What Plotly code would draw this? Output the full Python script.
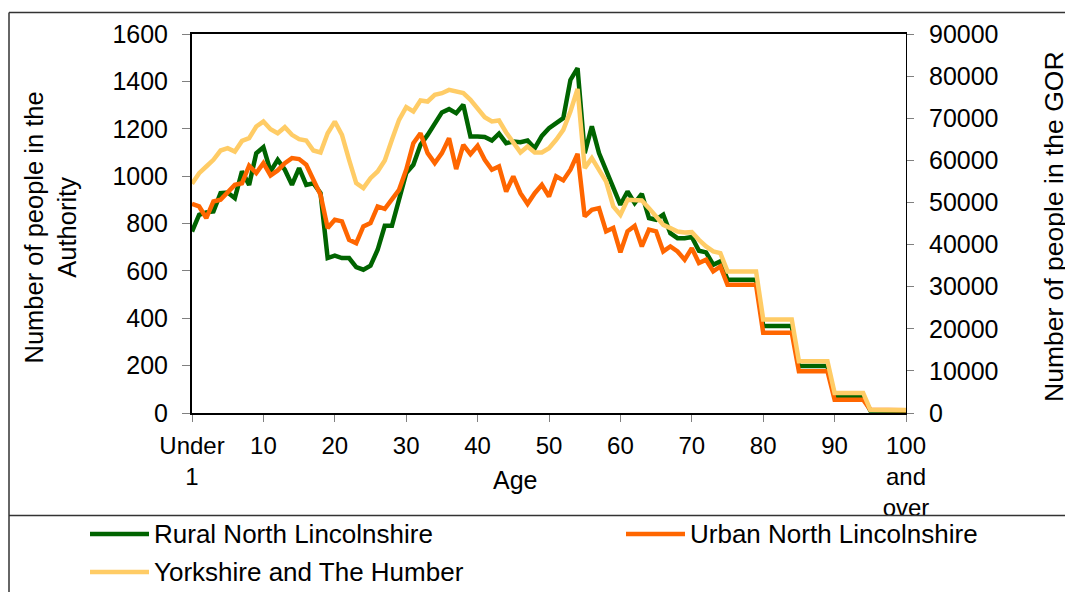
import plotly.graph_objects as go

# ---------------- data ----------------
ages = list(range(0, 101))
tick_vals = [0, 10, 20, 30, 40, 50, 60, 70, 80, 90, 100]
tick_text = ["Under<br>1", "10", "20", "30", "40", "50", "60", "70", "80", "90", "100<br>and<br>over"]

name_rural = "Rural North Lincolnshire"
name_urban = "Urban North Lincolnshire"
name_yorks = "Yorkshire and The Humber"

rural = [766, 837, 847, 851, 928, 931, 907, 1020, 963, 1097,
         1122, 1020, 1069, 1027, 963, 1034, 963, 970, 928, 654,
         664, 654, 654, 616, 605, 622, 689, 790, 790, 900,
         1013, 1048, 1132, 1174, 1224, 1269, 1283, 1266, 1301, 1167,
         1167, 1165, 1150, 1179, 1139, 1146, 1143, 1150, 1118, 1170,
         1202, 1224, 1245, 1406, 1456, 1097, 1210, 1097, 1027, 956,
         879, 935, 886, 925, 823, 816, 837, 759, 738, 738,
         743, 685, 678, 626, 640, 563, 563, 563, 563, 563,
         367, 367, 367, 367, 367, 198, 198, 198, 198, 198,
         71, 71, 71, 71, 71, 11, 11, 11, 11, 11,
         10]

urban = [883, 872, 823, 893, 900, 935, 963, 970, 1044, 1013,
         1055, 1003, 1024, 1055, 1076, 1072, 1048, 985, 921, 781,
         816, 809, 731, 717, 788, 802, 872, 862, 900, 942,
         1027, 1139, 1181, 1097, 1055, 1097, 1160, 1030, 1132, 1093,
         1128, 1069, 1027, 1041, 935, 999, 928, 883, 928, 963,
         914, 999, 982, 1027, 1094, 830, 858, 865, 767, 781,
         678, 767, 790, 703, 774, 767, 682, 703, 682, 647,
         696, 633, 647, 598, 619, 541, 541, 541, 541, 541,
         339, 339, 339, 339, 339, 176, 176, 176, 176, 176,
         56, 56, 56, 56, 56, 14, 14, 14, 14, 14,
         12]

yorkshire = [54420, 56950, 58530, 60120, 62330, 62880, 62090, 64620, 65260, 68030,
             69210, 67390, 66440, 67870, 66050, 65020, 64700, 62330, 61860, 66440,
             69210, 66050, 60120, 54580, 53390, 55770, 57350, 59960, 64880, 69610,
             72630, 71600, 74210, 73970, 75560, 75950, 76740, 76350, 75950, 74370,
             72390, 70250, 69230, 69460, 66620, 64080, 61880, 63290, 61880, 61880,
             62890, 64880, 67240, 71600, 76940, 58140, 60510, 57740, 54970, 49040,
             47060, 50620, 50470, 50470, 48650, 46670, 44690, 43900, 43110, 42870,
             42950, 41130, 39550, 38360, 37970, 33620, 33620, 33620, 33620, 33620,
             22230, 22230, 22230, 22230, 22230, 12300, 12300, 12300, 12300, 12300,
             4760, 4760, 4760, 4760, 4760, 790, 790, 790, 790, 790,
             700]

# ---------------- styling ----------------
C_RURAL = "#006400"
C_URBAN = "#FF6600"
C_YORKS = "#FFCC66"
FONT = "Liberation Sans, Arial, sans-serif"
FS = 25

# page has an 8px body margin, so the figure is 8px smaller than the window
OFF = 8
W, H = 1073 - OFF, 592 - OFF
PLOT_L, PLOT_R, PLOT_T, PLOT_B = 192, 906, 34, 413   # page pixel coordinates
L, T = PLOT_L - OFF, PLOT_T - OFF
R, B = 1073 - PLOT_R, 592 - PLOT_B
PW, PH = PLOT_R - PLOT_L, PLOT_B - PLOT_T


def px(X):
    return (X - PLOT_L) / PW


def py(Y):
    return (PLOT_B - Y) / PH


fig = go.Figure()
fig.add_trace(go.Scatter(x=ages, y=rural, name=name_rural, mode="lines",
                         line=dict(color=C_RURAL, width=4.5), yaxis="y"))
fig.add_trace(go.Scatter(x=ages, y=urban, name=name_urban, mode="lines",
                         line=dict(color=C_URBAN, width=4.5), yaxis="y"))
fig.add_trace(go.Scatter(x=ages, y=yorkshire, name=name_yorks, mode="lines",
                         line=dict(color=C_YORKS, width=4.5), yaxis="y2"))

fig.update_layout(
    width=W, height=H,
    margin=dict(l=L, r=R, t=T, b=B, pad=0),
    paper_bgcolor="white", plot_bgcolor="white",
    showlegend=False,
    font=dict(family=FONT, size=FS, color="black"),
    xaxis=dict(range=[0, 100], tickmode="array", tickvals=tick_vals, ticktext=tick_text,
               showgrid=False, zeroline=False, showline=True, linecolor="black", linewidth=1.5,
               mirror=True, ticks="outside", ticklen=7, tickcolor="#808080",
               tickfont=dict(family=FONT, size=24), ticklabelstandoff=3),
    yaxis=dict(range=[0, 1600], dtick=200, showgrid=False, zeroline=False,
               showline=True, linecolor="black", linewidth=2,
               ticks="outside", ticklen=8, tickcolor="#808080",
               tickfont=dict(family=FONT, size=FS), ticklabelstandoff=9),
    yaxis2=dict(range=[0, 90000], dtick=10000, overlaying="y", side="right",
                tickformat="d",
                showgrid=False, zeroline=False, showline=True, linecolor="black", linewidth=1,
                ticks="outside", ticklen=7, tickcolor="#808080",
                tickfont=dict(family=FONT, size=FS), ticklabelstandoff=10),
)

# axis titles
fig.add_annotation(text="Number of people in the<br>Authority", xref="paper", yref="paper",
                   x=px(50), y=py(227.5), xanchor="center", yanchor="middle",
                   textangle=-90, showarrow=False, font=dict(family=FONT, size=25.5))
fig.add_annotation(text="Number of people in the GOR", xref="paper", yref="paper",
                   x=px(1054), y=py(227), xanchor="center", yanchor="middle",
                   textangle=-90, showarrow=False, font=dict(family=FONT, size=26.5))
fig.add_annotation(text="Age", xref="paper", yref="paper",
                   x=px(515), y=py(480), xanchor="center", yanchor="middle",
                   showarrow=False, font=dict(family=FONT, size=FS))

# outer frame and separator
border = dict(color="#333333", width=1.5)
fig.add_shape(type="line", xref="paper", yref="paper", x0=px(9), x1=px(9), y0=py(12.5), y1=py(600), line=border)
fig.add_shape(type="line", xref="paper", yref="paper", x0=px(9), x1=px(1080), y0=py(12.5), y1=py(12.5), line=border)
fig.add_shape(type="line", xref="paper", yref="paper", x0=px(9), x1=px(1080), y0=py(515.5), y1=py(515.5), line=border)

# legend (drawn manually)
legend_items = [(name_rural, C_RURAL, 90, 534), (name_urban, C_URBAN, 626, 534), (name_yorks, C_YORKS, 90, 572)]
for nm, col, X0, Y0 in legend_items:
    fig.add_shape(type="line", xref="paper", yref="paper", x0=px(X0), x1=px(X0 + 59),
                  y0=py(Y0), y1=py(Y0), line=dict(color=col, width=4.5))
    fig.add_annotation(text=nm, xref="paper", yref="paper", x=px(X0 + 62), y=py(Y0),
                       xanchor="left", yanchor="middle", showarrow=False,
                       font=dict(family=FONT, size=26))

fig.write_html("out.html")
